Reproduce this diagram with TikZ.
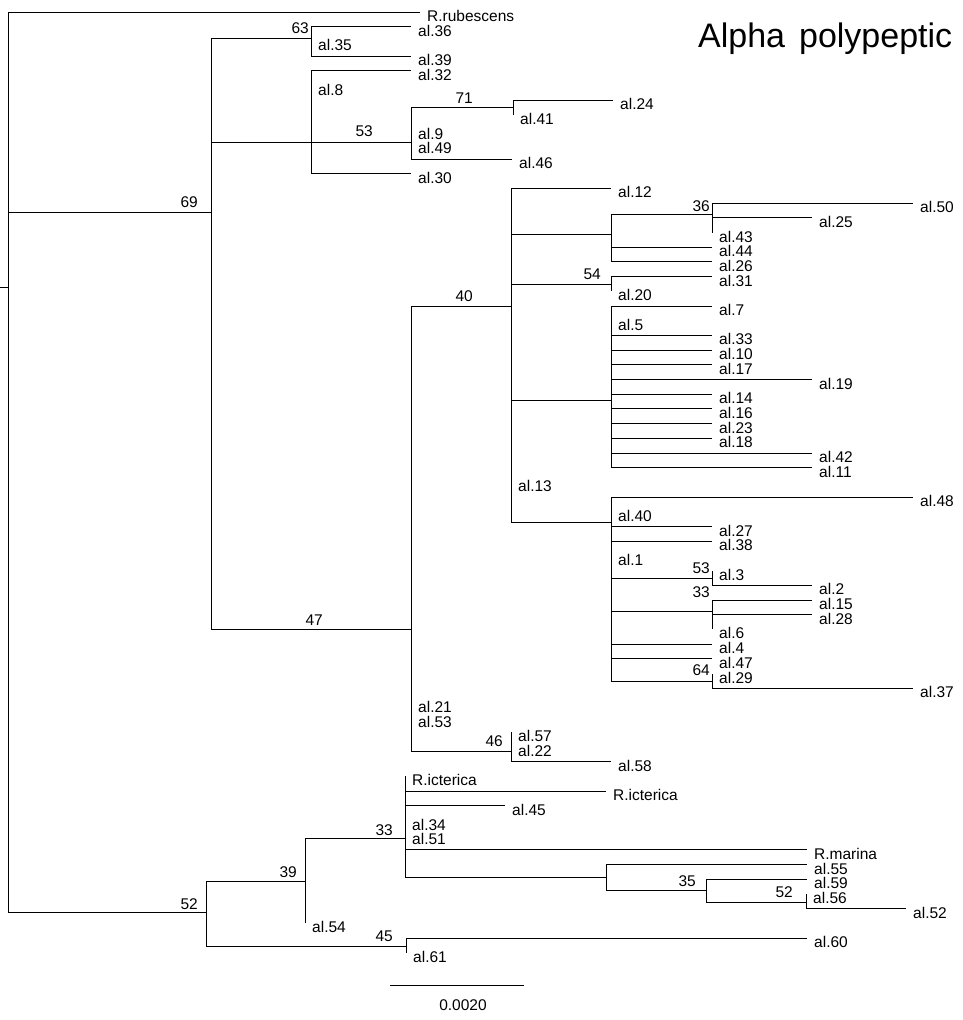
\documentclass[tikz,border=0pt]{standalone}
\usepackage{fontspec}
\setmainfont{Liberation Sans}
\tikzset{
  br/.style={line width=1pt, black},
  leaflbl/.style={anchor=base west, inner sep=0pt, font=\fontsize{15.5}{15.5}\selectfont},
  bootlbl/.style={anchor=base east, inner sep=0pt, font=\fontsize{15.5}{15.5}\selectfont},
}
\newcommand\tleaf[4]{%
  \coordinate (#1) at (#2,{12+(#3-1)*14.7});
  \node[leaflbl] (#1t) at ([xshift=7pt,yshift=-9.5pt]#1) {#4};
}
\newcommand\kids[2]{\foreach \c in {#2} {\draw[br] (#1) |- (\c);}}
\begin{document}
\begin{tikzpicture}[x=1pt,y=-1pt]
\useasboundingbox (0,0) rectangle (962,1020);
% internal nodes
\coordinate (rs) at (0,287);
\coordinate (root) at (8,287);
\coordinate (n69) at (211,212);
\coordinate (n63) at (311,38);
\coordinate (n8) at (311,142);
\coordinate (n53a) at (411,142);
\coordinate (n71) at (513,107);
\coordinate (n47) at (411,629);
\coordinate (n40) at (511,306);
\coordinate (nA) at (611,234);
\coordinate (n36) at (712,214);
\coordinate (n54) at (611,284);
\coordinate (nB) at (611,400);
\coordinate (nC) at (611,522);
\coordinate (n53b) at (712,578);
\coordinate (n33b) at (712,611);
\coordinate (n64) at (712,681);
\coordinate (n46) at (511,751);
\coordinate (n52) at (206,912);
\coordinate (n39) at (305,881);
\coordinate (n33c) at (405,838);
\coordinate (nD) at (606,877);
\coordinate (n35) at (706,890);
\coordinate (n52b) at (806,902);
\coordinate (n45) at (406,946);
% leaves
\tleaf{l1}{420}{1}{R.rubescens}
\tleaf{l2}{411}{2}{al.36}
\tleaf{l3}{311}{3}{al.35}
\tleaf{l4}{411}{4}{al.39}
\tleaf{l5}{411}{5}{al.32}
\tleaf{l6}{311}{6}{al.8}
\tleaf{l7}{613}{7}{al.24}
\tleaf{l8}{513}{8}{al.41}
\tleaf{l9}{411}{9}{al.9}
\tleaf{l10}{411}{10}{al.49}
\tleaf{l11}{512}{11}{al.46}
\tleaf{l12}{411}{12}{al.30}
\tleaf{l13}{611}{13}{al.12}
\tleaf{l14}{913}{14}{al.50}
\tleaf{l15}{812}{15}{al.25}
\tleaf{l16}{712}{16}{al.43}
\tleaf{l17}{712}{17}{al.44}
\tleaf{l18}{712}{18}{al.26}
\tleaf{l19}{712}{19}{al.31}
\tleaf{l20}{611}{20}{al.20}
\tleaf{l21}{712}{21}{al.7}
\tleaf{l22}{611}{22}{al.5}
\tleaf{l23}{712}{23}{al.33}
\tleaf{l24}{712}{24}{al.10}
\tleaf{l25}{712}{25}{al.17}
\tleaf{l26}{812}{26}{al.19}
\tleaf{l27}{712}{27}{al.14}
\tleaf{l28}{712}{28}{al.16}
\tleaf{l29}{712}{29}{al.23}
\tleaf{l30}{712}{30}{al.18}
\tleaf{l31}{812}{31}{al.42}
\tleaf{l32}{812}{32}{al.11}
\tleaf{l33}{511}{33}{al.13}
\tleaf{l34}{913}{34}{al.48}
\tleaf{l35}{611}{35}{al.40}
\tleaf{l36}{712}{36}{al.27}
\tleaf{l37}{712}{37}{al.38}
\tleaf{l38}{611}{38}{al.1}
\tleaf{l39}{712}{39}{al.3}
\tleaf{l40}{812}{40}{al.2}
\tleaf{l41}{812}{41}{al.15}
\tleaf{l42}{812}{42}{al.28}
\tleaf{l43}{712}{43}{al.6}
\tleaf{l44}{712}{44}{al.4}
\tleaf{l45}{712}{45}{al.47}
\tleaf{l46}{712}{46}{al.29}
\tleaf{l47}{913}{47}{al.37}
\tleaf{l48}{411}{48}{al.21}
\tleaf{l49}{411}{49}{al.53}
\tleaf{l50}{511}{50}{al.57}
\tleaf{l51}{511}{51}{al.22}
\tleaf{l52}{611}{52}{al.58}
\tleaf{l53}{405}{53}{R.icterica}
\tleaf{l54}{606}{54}{R.icterica}
\tleaf{l55}{505}{55}{al.45}
\tleaf{l56}{405}{56}{al.34}
\tleaf{l57}{405}{57}{al.51}
\tleaf{l58}{807}{58}{R.marina}
\tleaf{l59}{807}{59}{al.55}
\tleaf{l60}{807}{60}{al.59}
\tleaf{l61}{806}{61}{al.56}
\tleaf{l62}{906}{62}{al.52}
\tleaf{l63}{305}{63}{al.54}
\tleaf{l64}{807}{64}{al.60}
\tleaf{l65}{406}{65}{al.61}
% branches
\draw[br] (rs) -- (root);
\kids{root}{l1,n69,n52}
\kids{n69}{n63,n8,n47}
\kids{n63}{l2,l3,l4}
\kids{n8}{l5,l6,n53a,l12}
\kids{n53a}{n71,l9,l10,l11}
\kids{n71}{l7,l8}
\kids{n47}{n40,l48,l49,n46}
\kids{n40}{l13,nA,n54,nB,l33,nC}
\kids{nA}{n36,l17,l18}
\kids{n36}{l14,l15,l16}
\kids{n54}{l19,l20}
\kids{nB}{l21,l22,l23,l24,l25,l26,l27,l28,l29,l30,l31,l32}
\kids{nC}{l34,l35,l36,l37,l38,n53b,n33b,l44,l45,n64}
\kids{n53b}{l39,l40}
\kids{n33b}{l41,l42,l43}
\kids{n64}{l46,l47}
\kids{n46}{l50,l51,l52}
\kids{n52}{n39,n45}
\kids{n39}{n33c,l63}
\kids{n33c}{l53,l54,l55,l56,l57,l58,nD}
\kids{nD}{l59,n35}
\kids{n35}{l60,n52b}
\kids{n52b}{l61,l62}
\kids{n45}{l64,l65}
% bootstrap values
\node[bootlbl] (b63) at (309,33) {63};
\node[bootlbl] (b53a) at (373,136) {53};
\node[bootlbl] (b71) at (473,103) {71};
\node[bootlbl] (b69) at (198,207) {69};
\node[bootlbl] (b40) at (473,301) {40};
\node[bootlbl] (b47) at (323,625) {47};
\node[bootlbl] (b36) at (710,211) {36};
\node[bootlbl] (b54) at (601,279) {54};
\node[bootlbl] (b53b) at (710,573) {53};
\node[bootlbl] (b33b) at (710,597) {33};
\node[bootlbl] (b64) at (710,675) {64};
\node[bootlbl] (b46) at (503,746) {46};
\node[bootlbl] (b52) at (198,909) {52};
\node[bootlbl] (b39) at (297,877) {39};
\node[bootlbl] (b33c) at (393,835) {33};
\node[bootlbl] (b45) at (393,941) {45};
\node[bootlbl] (b35) at (696,886) {35};
\node[bootlbl] (b52b) at (793,897) {52};
% scale bar
\coordinate (sb1) at (390,985);
\coordinate (sb2) at (524,985);
\draw[br] (sb1) -- (sb2);
\node[anchor=base, inner sep=0pt, font=\fontsize{15.5}{15.5}\selectfont] (sbl) at (463,1010) {0.0020};
% title
\node[anchor=base west, inner sep=0pt, font=\fontsize{34}{34}\selectfont] (title) at (698,47) {\spaceskip=14pt Alpha polypeptic};
\end{tikzpicture}
\end{document}
